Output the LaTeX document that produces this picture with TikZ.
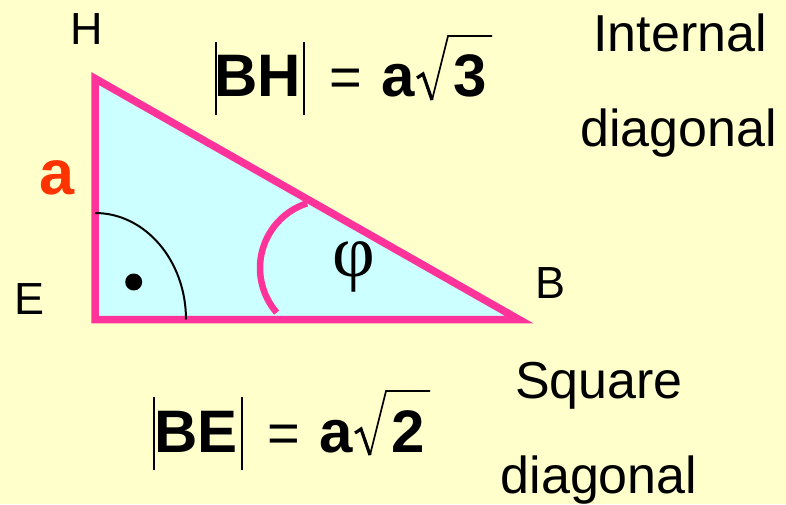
\documentclass[tikz,border=0pt]{standalone}
\usepackage{fontspec}
\setmainfont{Liberation Sans}
\newfontfamily\serifphi{Liberation Serif}
\definecolor{bgyellow}{HTML}{FFFFCC}
\definecolor{tricyan}{HTML}{CCFFFF}
\definecolor{edgepink}{HTML}{FF3399}
\definecolor{redA}{HTML}{FF3300}
\begin{document}
\begin{tikzpicture}[x=1pt,y=1pt,
  lbl/.style={inner sep=0pt, font=\fontsize{45}{54}\selectfont},
  word/.style={inner sep=0pt, anchor=base, font=\fontsize{52}{60}\selectfont},
  fbold/.style={inner sep=0pt, anchor=base, font=\fontsize{60}{66}\selectfont\bfseries},
  feq/.style={inner sep=0pt, anchor=base, font=\fontsize{56}{66}\selectfont},
  fbar/.style={draw=black, line width=2pt},
  radthick/.style={draw=black, line width=3.2pt, line join=miter},
  radthin/.style={draw=black, line width=1.7pt, line join=miter},
  side/.style={fill=tricyan, draw=edgepink, line width=7.5pt, line join=miter},
  rightmark/.style={draw=black, line width=2pt},
  anglemark/.style={draw=edgepink, line width=6.5pt}]
\fill[bgyellow] (0,0) rectangle (786,504);
\useasboundingbox (0,0) rectangle (786,504);
% triangle
\coordinate (E) at (95,184.5);
\coordinate (H) at (95,425.5);
\coordinate (B) at (519,184.5);
\coordinate (phic) at (328,236);
\path[side] (E) -- (H) -- (B) -- cycle;
\draw[rightmark] (E) ++(0,106.5) arc[start angle=90, end angle=0, x radius=91, y radius=106.5];
\draw[anglemark] (phic) ++(108:68) arc[start angle=108, end angle=221, radius=68];
\fill (133.7,222) circle (8.5);
% vertex labels
\node[lbl] (Hl) at (87,475) {H};
\node[lbl] (El) at (30,205) {E};
\node[lbl] (Bl) at (550,220.5) {B};
\node[inner sep=0pt, text=redA, font=\fontsize{63}{70}\selectfont\bfseries] (al) at (57.5,326.5) {a};
\node[inner sep=0pt, font=\fontsize{74}{80}\serifphi] (phi) at (354,237) {φ};
% captions
\node[word] (int) at (680,452) {Internal};
\node[word] (d1) at (678.5,357) {diagonal};
\node[word] (sq) at (599,106) {Square};
\node[word] (d2) at (599,11) {diagonal};
% |BH| = a sqrt 3
\begin{scope}[shift={(215,462)}]
  \coordinate (bh1t) at (1,0);  \coordinate (bh1b) at (1,-73);
  \coordinate (bh2t) at (89,0); \coordinate (bh2b) at (89,-73);
  \draw[fbar] (bh1t) -- (bh1b);
  \draw[fbar] (bh2t) -- (bh2b);
  \node[fbold] (bhL) at (43,-55) {BH};
  \node[feq] (bhEq) at (130.5,-55) {=};
  \node[fbold] (bhA) at (183.5,-55) {a};
  \node[fbold] (bhD) at (255,-55) {3};
  \draw[radthick] (202,-36) -- (208,-32) -- (217,-58);
  \draw[radthin] (217,-58) -- (233,6) -- (277,6);
\end{scope}
% |BE| = a sqrt 2
\begin{scope}[shift={(153,107)}]
  \coordinate (be1t) at (1,0);  \coordinate (be1b) at (1,-73);
  \coordinate (be2t) at (89,0); \coordinate (be2b) at (89,-73);
  \draw[fbar] (be1t) -- (be1b);
  \draw[fbar] (be2t) -- (be2b);
  \node[fbold] (beL) at (43,-55) {BE};
  \node[feq] (beEq) at (130.5,-55) {=};
  \node[fbold] (beA) at (183.5,-55) {a};
  \node[fbold] (beD) at (255,-55) {2};
  \draw[radthick] (202,-36) -- (208,-32) -- (217,-58);
  \draw[radthin] (217,-58) -- (233,6) -- (277,6);
\end{scope}
\end{tikzpicture}
\end{document}
